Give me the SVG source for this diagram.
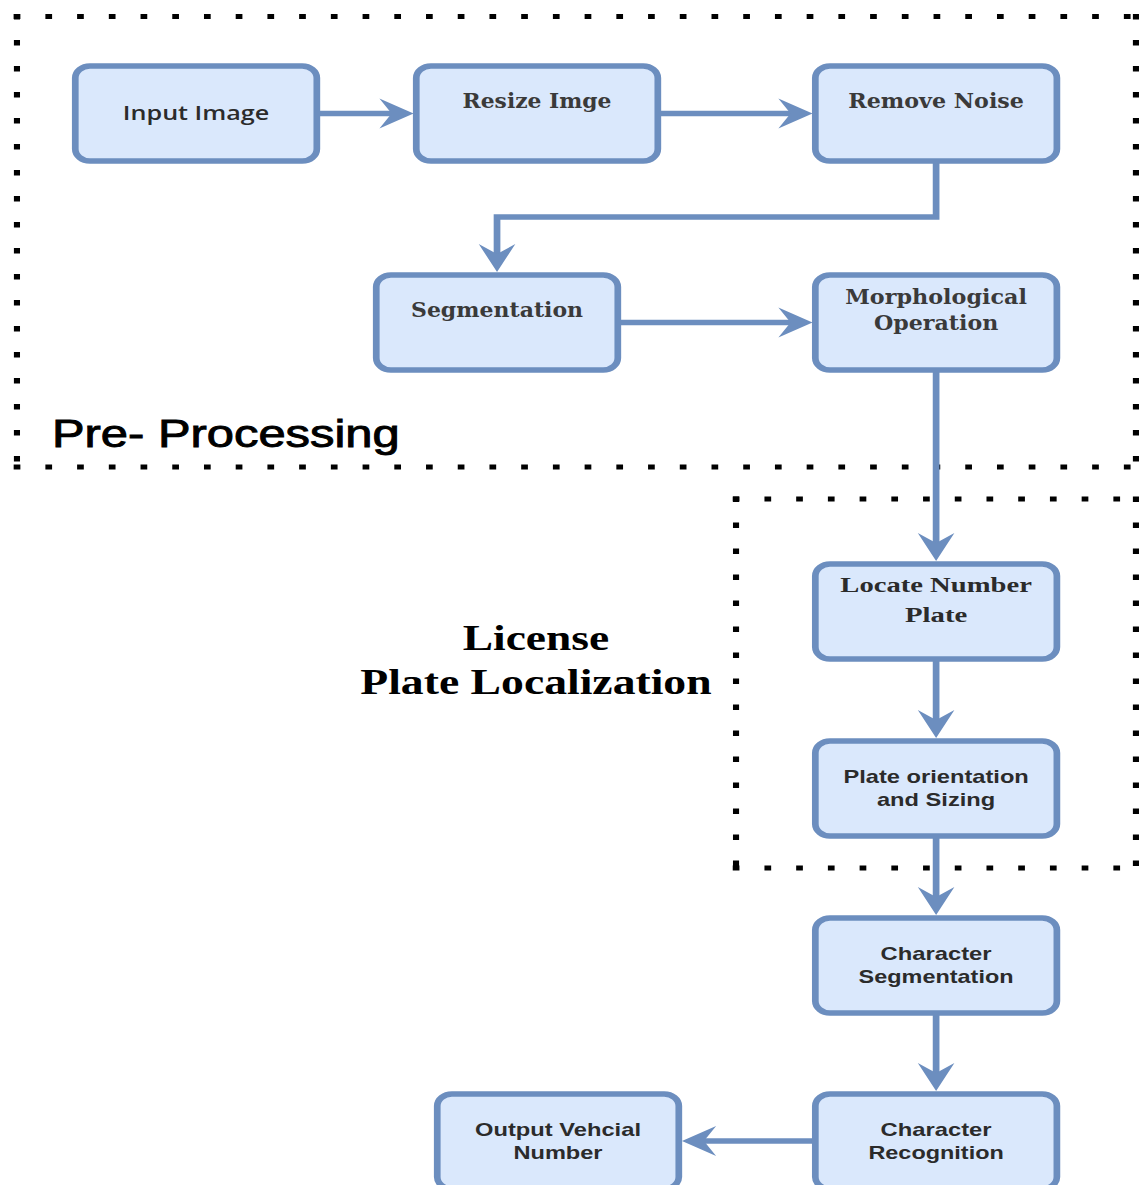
<svg xmlns="http://www.w3.org/2000/svg" width="1139" height="1185" viewBox="0 0 1139 1185">
  <style>
    .node rect { fill: #dae8fc; stroke: #6c8ebf; stroke-width: 5.5; }
    .edge { fill: none; stroke: #6c8ebf; stroke-width: 5.5; marker-end: url(#arrow); }
    .dots { fill: none; stroke: #000; stroke-width: 5; stroke-dasharray: 5.5 20.5; }
    .sans { font-family: "Open Sans", "Liberation Sans", sans-serif; font-weight: 600; fill: #2b2b2b; }
    .arial { font-family: "Liberation Sans", Arial, sans-serif; font-weight: bold; fill: #2b2b2b; }
    .slab { font-family: "DejaVu Serif", "Liberation Serif", serif; font-weight: bold; fill: #3a3a3a; }
    .times { font-family: "Liberation Serif", "Times New Roman", serif; font-weight: bold; fill: #2b2b2b; }
    text { text-anchor: middle; }
  </style>
  <defs>
    <marker id="arrow" viewBox="-20 -16 32 32" refX="0" refY="0" markerWidth="32" markerHeight="32" markerUnits="userSpaceOnUse" orient="auto">
      <path d="M10,0 L-18,-15 L-8,0 L-18,15 Z" fill="#6c8ebf"/>
    </marker>
  </defs>
  <rect width="1139" height="1185" fill="#fff"/>
  <!-- the drawing is laid out in a narrower space and widened horizontally -->
  <g transform="scale(1.22 1)">
    <!-- dotted group borders -->
    <g id="group-preprocessing">
      <path class="dots" d="M11.2,16.5 H934"/>
      <path class="dots" d="M11.2,467 H934"/>
      <path class="dots" d="M13.9,14 V470"/>
      <path class="dots" d="M931.1,14 V470"/>
      <text x="42.6" y="447" class="arial" style="font-weight:normal;fill:#000;stroke:#000;stroke-width:0.9;text-anchor:start" font-size="38" textLength="285" lengthAdjust="spacingAndGlyphs">Pre- Processing</text>
    </g>
    <g id="group-localization">
      <path class="dots" d="M600.6,499 H934"/>
      <path class="dots" d="M600.6,868 H934"/>
      <path class="dots" d="M603.3,496.5 V871"/>
      <path class="dots" d="M931.1,496.5 V871"/>
      <text x="439.3" y="650" class="times" font-size="36" textLength="120" lengthAdjust="spacingAndGlyphs" style="fill:#000">License</text>
      <text x="439.3" y="694" class="times" font-size="36" textLength="288" lengthAdjust="spacingAndGlyphs" style="fill:#000">Plate Localization</text>
    </g>

    <!-- connectors -->
    <g id="connectors">
      <path class="edge" d="M259.7,113.5 H329"/>
      <path class="edge" d="M539.2,113.5 H656"/>
      <path class="edge" d="M767.3,160.8 V217 H407.4 V262"/>
      <path class="edge" d="M506.4,322.5 H656"/>
      <path class="edge" d="M767.3,369.8 V551"/>
      <path class="edge" d="M767.3,658.8 V728"/>
      <path class="edge" d="M767.3,835.8 V905"/>
      <path class="edge" d="M767.3,1012.8 V1081"/>
      <path class="edge" d="M668.3,1141 H569"/>
    </g>

    <!-- process nodes -->
    <g id="input-image" class="node">
      <rect x="61.7" y="66" width="198" height="95" rx="12"/>
      <text x="160.7" y="120" class="sans" font-size="20" textLength="120" lengthAdjust="spacingAndGlyphs">Input Image</text>
    </g>
    <g id="resize-image" class="node">
      <rect x="341.2" y="66" width="198" height="95" rx="12"/>
      <text x="440.2" y="108" class="slab" font-size="19.5" textLength="122" lengthAdjust="spacingAndGlyphs">Resize Imge</text>
    </g>
    <g id="remove-noise" class="node">
      <rect x="668.3" y="66" width="198" height="95" rx="12"/>
      <text x="767.3" y="108" class="slab" font-size="19.5" textLength="144" lengthAdjust="spacingAndGlyphs">Remove Noise</text>
    </g>
    <g id="segmentation" class="node">
      <rect x="308.4" y="275" width="198" height="95" rx="12"/>
      <text x="407.4" y="317" class="slab" font-size="19.5" textLength="141" lengthAdjust="spacingAndGlyphs">Segmentation</text>
    </g>
    <g id="morphological-operation" class="node">
      <rect x="668.3" y="275" width="198" height="95" rx="12"/>
      <text x="767.3" y="304" class="slab" font-size="19.5" textLength="149" lengthAdjust="spacingAndGlyphs">Morphological</text>
      <text x="767.3" y="330" class="slab" font-size="19.5" textLength="102" lengthAdjust="spacingAndGlyphs">Operation</text>
    </g>
    <g id="locate-number-plate" class="node">
      <rect x="668.3" y="564" width="198" height="95" rx="12"/>
      <text x="767.3" y="592" class="times" font-size="22" textLength="157" lengthAdjust="spacingAndGlyphs">Locate Number</text>
      <text x="767.3" y="622" class="times" font-size="22" textLength="51" lengthAdjust="spacingAndGlyphs">Plate</text>
    </g>
    <g id="plate-orientation" class="node">
      <rect x="668.3" y="741" width="198" height="95" rx="12"/>
      <text x="767.3" y="783" class="arial" font-size="17.5" textLength="152" lengthAdjust="spacingAndGlyphs">Plate orientation</text>
      <text x="767.3" y="806" class="arial" font-size="17.5" textLength="97" lengthAdjust="spacingAndGlyphs">and Sizing</text>
    </g>
    <g id="character-segmentation" class="node">
      <rect x="668.3" y="918" width="198" height="95" rx="12"/>
      <text x="767.3" y="960" class="arial" font-size="17.5" textLength="91" lengthAdjust="spacingAndGlyphs">Character</text>
      <text x="767.3" y="983" class="arial" font-size="17.5" textLength="127" lengthAdjust="spacingAndGlyphs">Segmentation</text>
    </g>
    <g id="character-recognition" class="node">
      <rect x="668.3" y="1094" width="198" height="95" rx="12"/>
      <text x="767.3" y="1136" class="arial" font-size="17.5" textLength="91" lengthAdjust="spacingAndGlyphs">Character</text>
      <text x="767.3" y="1159" class="arial" font-size="17.5" textLength="111" lengthAdjust="spacingAndGlyphs">Recognition</text>
    </g>
    <g id="output-number" class="node">
      <rect x="358.4" y="1094" width="198" height="95" rx="12"/>
      <text x="457.4" y="1136" class="arial" font-size="17.5" textLength="136" lengthAdjust="spacingAndGlyphs">Output Vehcial</text>
      <text x="457.4" y="1159" class="arial" font-size="17.5" textLength="73" lengthAdjust="spacingAndGlyphs">Number</text>
    </g>
  </g>
</svg>
